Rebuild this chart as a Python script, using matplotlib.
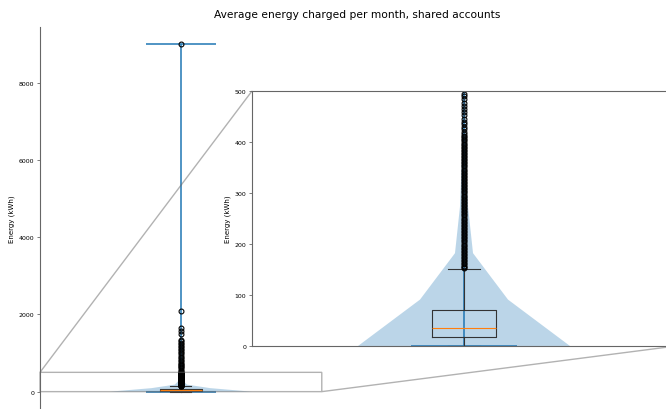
import matplotlib
matplotlib.use('Agg')
import matplotlib.pyplot as plt

# KDE profile of monthly energy per shared account (kWh -> relative density)
violin_coords = [0, 91, 182, 273, 364, 455, 545, 636, 727, 818, 909, 1000, 1500, 2000, 2500, 9000]
violin_density = [1.0, 0.415, 0.085, 0.038, 0.02, 0.012, 0.008, 0.005, 0.004, 0.003,
                  0.002, 0.0015, 0.0007, 0.0003, 0.0001, 0.0]
energy_min, energy_max = 0, 9000
energy_mean, energy_median = 55, 35

# box plot summary
q1, median, q3 = 18, 35, 71
whisker_lo, whisker_hi = 0, 151
fliers = [152, 154, 157, 160, 163, 166, 169, 172, 175, 178, 181, 184, 187, 190, 193,
          196, 199, 202, 205, 208, 211, 214, 217, 220, 223, 226, 229, 232, 235, 238,
          241, 244, 247, 250, 253, 256, 259, 262, 265, 268, 271, 274, 277, 280, 283,
          286, 289, 292, 295, 298, 301, 304, 307, 310, 313, 316, 319, 322, 325, 328,
          331, 334, 337, 340, 343, 346, 349, 352, 355, 358, 361, 364, 367, 370, 373,
          376, 379, 382, 385, 388, 391, 394, 397, 400, 403, 406, 409, 412, 416, 420,
          425, 430, 435, 440, 446, 452, 458, 464, 470, 477, 484, 490, 495,
          510, 540, 570, 600, 630, 660, 690, 720, 750, 790, 830, 870, 910, 950, 990,
          1030, 1070, 1110, 1150, 1190, 1230, 1270, 1310, 1340,
          1490, 1570, 1660, 2100, 9000]

vpstats = [dict(coords=violin_coords, vals=violin_density, mean=energy_mean,
                median=energy_median, min=energy_min, max=energy_max)]
bxstats = [dict(med=median, q1=q1, q3=q3, whislo=whisker_lo, whishi=whisker_hi,
                fliers=fliers, label='')]

fig = plt.figure(figsize=(6.66, 4.10), dpi=100)
ax = fig.add_axes([40 / 666, 0, 634 / 666, 382 / 410])
axins = fig.add_axes([252 / 666, 63 / 410, 424 / 666, 255 / 410])

line_kw = dict(linewidth=0.8, color='#333333')


def draw(a):
    parts = a.violin(vpstats, positions=[1], widths=0.5, showextrema=True)
    for key in ['cbars', 'cmins', 'cmaxes']:
        parts[key].set_linewidth(1.1)
        parts[key].set_color('C0')
    a.bxp(bxstats, positions=[1], widths=0.15,
          boxprops=line_kw, whiskerprops=line_kw, capprops=line_kw,
          medianprops=dict(linewidth=0.8, color='C1'),
          flierprops=dict(marker='o', markersize=3.5, markeredgewidth=0.8,
                          markerfacecolor='none', markeredgecolor='black'))


draw(ax)
ax.set_xlim(0.5, 2.75)
ax.set_ylim(-450, 9450)
ax.set_xticks([])
ax.set_yticks([0, 2000, 4000, 6000, 8000])
for s in ['top', 'right', 'bottom']:
    ax.spines[s].set_visible(False)
ax.spines['left'].set_color('#666666')
ax.spines['left'].set_linewidth(0.8)
ax.tick_params(axis='y', labelsize=4.5, length=2, width=0.6, color='#666666', pad=2)
ax.set_ylabel('Energy (kWh)', fontsize=5, labelpad=3)
ax.set_title('Average energy charged per month, shared accounts', fontsize=7.7, pad=7)

draw(axins)
axins.set_xlim(0.5, 1.5)
axins.set_ylim(0, 500)
axins.set_xticks([])
axins.set_yticks([0, 100, 200, 300, 400, 500])
for s in ['left', 'top', 'bottom', 'right']:
    axins.spines[s].set_color('#666666')
    axins.spines[s].set_linewidth(0.8)
axins.tick_params(axis='y', labelsize=4.5, length=2, width=0.6, color='#666666', pad=2)
axins.set_ylabel('Energy (kWh)', fontsize=5, labelpad=3)

zoom = ax.indicate_inset_zoom(axins, edgecolor='0.4')
# keep only upper-left and lower-right connectors
for i, c in enumerate(zoom.connectors):
    c.set_visible(i in (1, 2))

fig.savefig('out.png', dpi=100)
